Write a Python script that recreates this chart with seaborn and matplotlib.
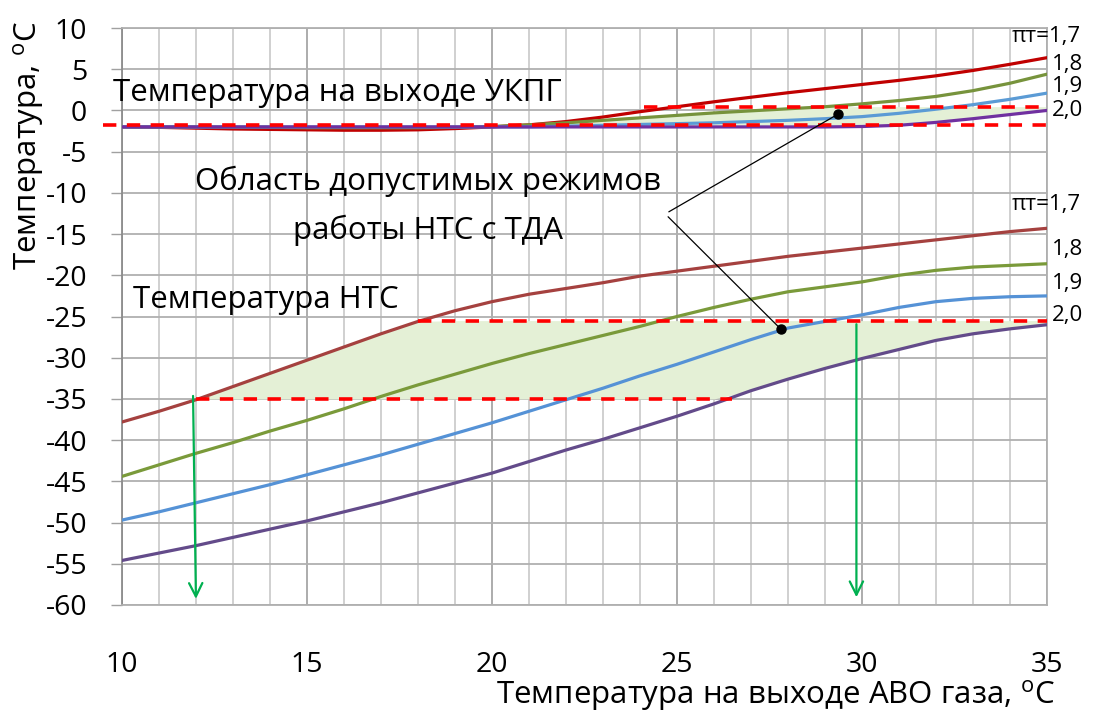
import numpy as np
import matplotlib
matplotlib.use("Agg")
import matplotlib.pyplot as plt
import seaborn as sns

# x values (температура на выходе АВО газа)
x_avo = list(range(10, 36))

# температура на выходе УКПГ, по степени расширения
ukpg_17 = [-2.0, -2.05, -2.15, -2.25, -2.3, -2.35, -2.4, -2.4, -2.35, -2.2, -2.0, -1.75, -1.35,
           -0.8, -0.15, 0.45, 1.05, 1.6, 2.15, 2.65, 3.15, 3.65, 4.2, 4.85, 5.6, 6.4]
ukpg_18 = [-2.0, -2.0, -2.0, -2.05, -2.05, -2.1, -2.1, -2.1, -2.1, -2.05, -1.95, -1.75, -1.5,
           -1.2, -0.9, -0.6, -0.3, -0.05, 0.2, 0.45, 0.8, 1.2, 1.7, 2.4, 3.3, 4.4]
ukpg_19 = [-2.0, -2.0, -2.0, -2.0, -2.0, -2.0, -2.0, -2.0, -2.0, -2.0, -2.0, -2.0, -1.9,
           -1.8, -1.7, -1.6, -1.5, -1.35, -1.2, -1.0, -0.75, -0.35, 0.15, 0.7, 1.35, 2.1]
ukpg_20 = [-2.0, -2.0, -2.0, -2.0, -2.0, -2.0, -2.0, -2.0, -2.0, -2.0, -2.0, -2.0, -2.0,
           -2.0, -2.0, -2.0, -2.0, -2.0, -2.0, -2.0, -1.95, -1.8, -1.45, -1.0, -0.5, 0.0]

# температура НТС
nts_17 = [-37.8, -36.5, -35.1, -33.5, -31.9, -30.3, -28.7, -27.1, -25.6, -24.3, -23.2, -22.3, -21.6,
          -20.9, -20.1, -19.5, -18.9, -18.3, -17.7, -17.2, -16.7, -16.2, -15.7, -15.2, -14.7, -14.3]
nts_18 = [-44.4, -43.0, -41.6, -40.3, -38.9, -37.6, -36.2, -34.7, -33.3, -32.0, -30.7, -29.5, -28.4,
          -27.3, -26.2, -25.0, -23.9, -22.9, -22.0, -21.4, -20.8, -20.0, -19.4, -19.0, -18.8, -18.6]
nts_19 = [-49.7, -48.7, -47.6, -46.5, -45.4, -44.2, -43.0, -41.8, -40.5, -39.2, -37.9, -36.5, -35.1,
          -33.7, -32.2, -30.8, -29.3, -27.8, -26.4, -25.6, -24.8, -23.9, -23.2, -22.8, -22.6, -22.5]
nts_20 = [-54.6, -53.7, -52.8, -51.8, -50.8, -49.8, -48.7, -47.6, -46.4, -45.2, -44.0, -42.6, -41.2,
          -39.9, -38.5, -37.1, -35.6, -34.0, -32.6, -31.3, -30.1, -29.0, -27.9, -27.1, -26.5, -26.0]

# ограничения
ukpg_low, ukpg_high = -1.75, 0.4
nts_low, nts_high = -35.0, -25.5
x_arrow_left, x_arrow_right = 12.0, 29.85

pi_labels = ["πт=1,7", "1,8", "1,9", "2,0"]

sns.set_theme(style="white")
plt.rcParams["font.family"] = ["Open Sans", "DejaVu Sans"]
plt.rcParams["axes.unicode_minus"] = False
plt.rcParams["mathtext.default"] = "regular"
plt.rcParams["text.color"] = "black"
plt.rcParams["xtick.color"] = "black"
plt.rcParams["ytick.color"] = "black"
plt.rcParams["axes.labelcolor"] = "black"

fig = plt.figure(figsize=(10.94, 7.13), dpi=100)
ax = fig.add_axes([0.1115, 0.1515, 0.8455, 0.8092])

x = np.array(x_avo)

# заливка областей допустимых режимов
fill_c = "#e4f0d6"
up_top = np.minimum(ukpg_18, ukpg_high)
up_bot = np.array(ukpg_20)
ax.fill_between(x, up_bot, up_top, where=up_top >= up_bot, interpolate=True,
                color=fill_c, lw=0, zorder=1)
lo_top = np.minimum(nts_17, nts_high)
lo_bot = np.maximum(nts_20, nts_low)
ax.fill_between(x, lo_bot, lo_top, where=lo_top >= lo_bot, interpolate=True,
                color=fill_c, lw=0, zorder=1)

lw = 2.3
sns.lineplot(x=x_avo, y=ukpg_17, color="#c00000", lw=lw, ax=ax, zorder=3)
sns.lineplot(x=x_avo, y=ukpg_18, color="#77933c", lw=lw, ax=ax, zorder=3)
sns.lineplot(x=x_avo, y=ukpg_19, color="#5b9bd5", lw=lw, ax=ax, zorder=3)
sns.lineplot(x=x_avo, y=ukpg_20, color="#7030a0", lw=lw, ax=ax, zorder=3)

sns.lineplot(x=x_avo, y=nts_17, color="#a5413f", lw=lw, ax=ax, zorder=3)
sns.lineplot(x=x_avo, y=nts_18, color="#7a9a3a", lw=lw, ax=ax, zorder=3)
sns.lineplot(x=x_avo, y=nts_19, color="#5592d6", lw=lw, ax=ax, zorder=3)
sns.lineplot(x=x_avo, y=nts_20, color="#634b8a", lw=lw, ax=ax, zorder=3)

# красные пунктирные ограничения
dash = dict(color="#ff0000", lw=2.6, dashes=(3.7, 2.9), zorder=4)
ax.plot([9.5, 35], [ukpg_low, ukpg_low], clip_on=False, **dash)
ax.plot([24.1, 35], [ukpg_high, ukpg_high], **dash)
ax.plot([18.0, 35], [nts_high, nts_high], **dash)
ax.plot([12.0, 26.5], [nts_low, nts_low], **dash)

# зелёные стрелки
arr = dict(arrowstyle="->", color="#00b050", lw=1.6, mutation_scale=24)
ax.annotate("", xy=(x_arrow_left, -59.6), xytext=(x_arrow_left - 0.08, -34.3),
            arrowprops=arr, zorder=5)
ax.annotate("", xy=(x_arrow_right, -59.4), xytext=(x_arrow_right, -25.6),
            arrowprops=arr, zorder=5)

# выноски
ax.plot([24.78, 29.36], [-12.3, -0.43], color="black", lw=0.9, zorder=5)
ax.plot([24.76, 27.8], [-12.9, -26.5], color="black", lw=0.9, zorder=5)
ax.plot([29.36, 27.8], [-0.43, -26.5], "o", color="black", ms=6.5, zorder=6)

fs = 22.5
ax.text(9.76, 2.1, "Температура на выходе УКПГ", fontsize=fs, ha="left", va="center", zorder=6)
ax.text(10.3, -23.0, "Температура НТС", fontsize=fs, ha="left", va="center", zorder=6)
ax.text(18.27, -8.65, "Область допустимых режимов", fontsize=fs, ha="center", va="center", zorder=6)
ax.text(18.27, -14.5, "работы НТС с ТДА", fontsize=fs, ha="center", va="center", zorder=6)

fs2 = 16
for lab, xx, yy in zip(pi_labels, [34.05, 35.13, 35.13, 35.13], [9.03, 5.6, 2.85, 0.0]):
    ax.text(xx, yy, lab, fontsize=fs2, ha="left", va="center", clip_on=False)
for lab, xx, yy in zip(pi_labels, [34.05, 35.13, 35.13, 35.13], [-11.47, -16.93, -20.97, -24.82]):
    ax.text(xx, yy, lab, fontsize=fs2, ha="left", va="center", clip_on=False)

# оси
ax.set_xlim(10, 35)
ax.set_ylim(-60, 10)
ax.set_xticks(range(10, 36, 5))
ax.set_xticks(range(10, 36, 1), minor=True)
ax.set_yticks(range(-60, 11, 5))
ax.grid(which="major", axis="x", color="#a6a6a6", lw=1.3)
ax.grid(which="minor", axis="x", color="#c8c8c8", lw=1.2)
ax.grid(which="major", axis="y", color="#b0b0b0", lw=1.3)
ax.set_axisbelow(True)
ax.tick_params(axis="x", which="both", length=0, pad=33, labelsize=20.5)
ax.tick_params(axis="y", which="major", length=8, width=1.0, color="#a0a0a0",
               direction="out", pad=17, labelsize=20.5, left=True)
ax.tick_params(axis="y", which="minor", length=0)
for side in ["top", "right", "bottom"]:
    ax.spines[side].set_color("#b0b0b0")
ax.spines["left"].set_color("#8c8c8c")
for sp in ax.spines.values():
    sp.set_linewidth(1.3)

ax.set_xlabel("Температура на выходе АВО газа, $^{o}$C", fontsize=fs, loc="right", va="baseline")
ax.xaxis.set_label_coords(1.0086, -0.172)
ax.set_ylabel("Температура, $^{o}$C", fontsize=fs, loc="top", va="center")
ax.yaxis.set_label_coords(-0.1016, 1.013)

fig.savefig("out.png", dpi=100)
